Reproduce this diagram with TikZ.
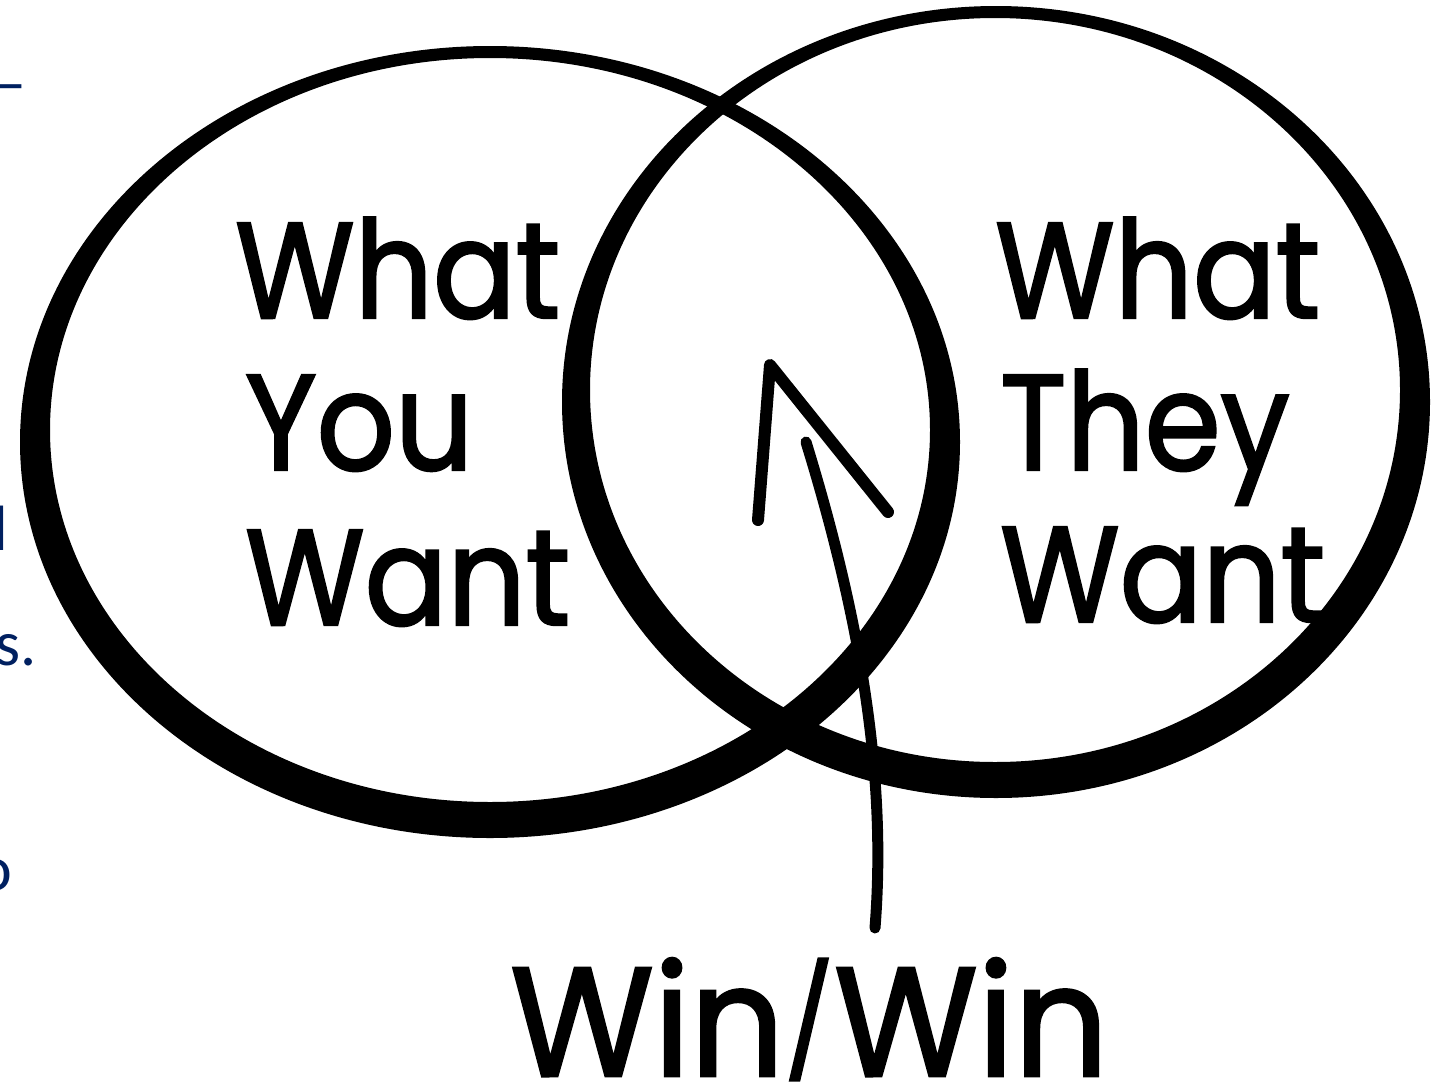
\documentclass[tikz,border=0pt]{standalone}
\usepackage{fontspec}
\setmainfont{Poppins}
\newfontfamily\handfont[FakeStretch=0.9,FakeBold=1.8]{Poppins}
\newfontfamily\winfont[FakeStretch=0.95,FakeBold=1.8]{Poppins}
\newfontfamily\sidefont{Carlito}
\definecolor{navy}{RGB}{0,32,96}
\tikzset{
  ring/.style={fill=black, even odd rule},
  bigtxt/.style={font=\handfont\fontsize{136}{150}\selectfont, inner sep=0pt, anchor=base west},
  wintxt/.style={font=\winfont\fontsize{155}{170}\selectfont, inner sep=0pt, anchor=base west},
  sidetxt/.style={font=\sidefont\fontsize{64}{76}\selectfont, text=navy, inner sep=0pt, anchor=base east},
  shaft/.style={line width=11pt, line cap=round},
  head/.style={line width=12pt, line cap=round, line join=round}
}
\begin{document}
\begin{tikzpicture}[x=1pt,y=-1pt]
\useasboundingbox (0,0) rectangle (1445,1090);
% left ring
\fill[ring] (490,442) ellipse [x radius=470pt, y radius=396pt]
            (490,430) ellipse [x radius=440pt, y radius=372pt];
% right ring
\fill[ring] (996,402) ellipse [x radius=434pt, y radius=396pt]
            (995,390) ellipse [x radius=405pt, y radius=372pt];
% texts
\node[bigtxt] (l1) at (235,318) {What};
\node[bigtxt] (l2) at (245,470) {You};
\node[bigtxt] (l3) at (245,625) {Want};
\node[bigtxt] (r1) at (995,318) {What};
\node[bigtxt] (r2) at (1000,470) {They};
\node[bigtxt] (r3) at (1000,622) {Want};
\node[wintxt] (win) at (510,1076) {Win\raisebox{14pt}{\fontsize{110}{110}\selectfont /}Win};
% side fragments
\node[sidetxt] (s1) at (27,104) {–};
\node[sidetxt] (s2) at (8,550) {l};
\node[sidetxt] (s3) at (37,665) {s.};
\node[sidetxt] (s4) at (12,890) {o};
% arrow
\coordinate (tail) at (875,928);
\coordinate (tip) at (806,442);
\draw[shaft] (tail) .. controls (885,800) and (870,650) .. (tip);
\coordinate (hl) at (758,520);
\coordinate (ha) at (770,365);
\coordinate (hr) at (888,512);
\draw[head] (hl) -- (ha) -- (hr);
\end{tikzpicture}
\end{document}
